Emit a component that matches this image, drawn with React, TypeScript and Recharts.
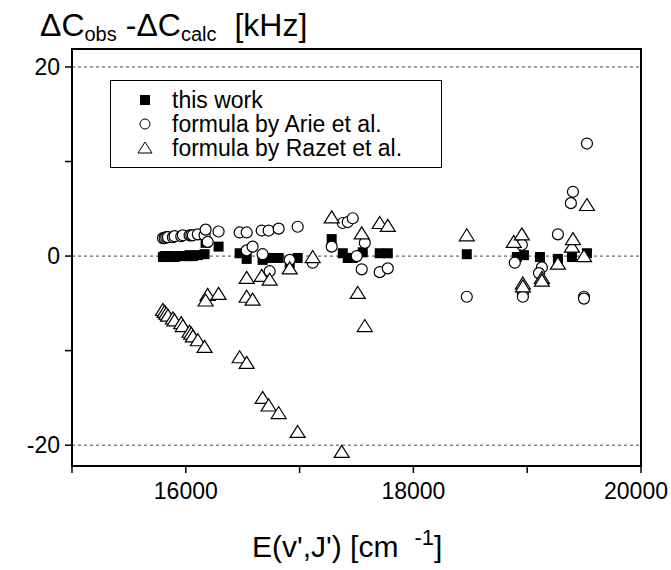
import React from 'react';
import {
  ScatterChart,
  Scatter,
  XAxis,
  YAxis,
  ReferenceLine,
  ReferenceArea,
  Legend,
} from 'recharts';

const xTicks = [15000, 16000, 17000, 18000, 19000, 20000];
const xLabeled = [16000, 18000, 20000];
const yTicks = [-20, -10, 0, 10, 20];
const yLabeled = [-20, 0, 20];
const dashedLevels = [20, 0, -20];

// this work
const thisWorkE = [
  15799, 15814, 15828, 15843, 15887, 15901, 15960, 15974, 16033, 16048, 16062, 16106, 16165,
  16174, 16288, 16473, 16535, 16675, 16737, 16816, 16913, 16983, 17282, 17379, 17423, 17467,
  17555, 17704, 17775, 18469, 18909, 18971, 19112, 19270, 19393, 19525,
];
const thisWorkD = [
  -0.1, 0, -0.1, 0, 0, -0.1, 0, 0, 0.1, 0, 0, 0.1, 0.2,
  1.4, 1.0, 0.3, -0.3, -0.4, -0.2, -0.2, -0.8, -0.2, 1.8, 0.3, -0.2, -0.2,
  0.4, 0.3, 0.3, 0.2, -0.1, 0.1, -0.1, -0.3, -0.1, 0.3,
];

// formula by Arie et al.
const arieE = [
  15799, 15814, 15828, 15843, 15887, 15901, 15960, 15974, 16033, 16048, 16062, 16106, 16165,
  16174, 16288, 16192, 16473, 16535, 16667, 16728, 16816, 16983, 16535, 16587, 16675, 16737,
  16913, 17115, 17282, 17379, 17423, 17467, 17573, 17502, 17546, 17704, 17775, 18469, 18953,
  18891, 18962, 18962, 19129, 19103, 19270, 19384, 19402, 19525, 19499, 19499,
];
const arieD = [
  1.9, 1.9, 2.0, 2.0, 2.0, 2.1, 2.1, 2.2, 2.2, 2.2, 2.2, 2.3, 2.2,
  2.8, 2.6, 1.5, 2.5, 2.5, 2.7, 2.7, 2.9, 3.1, 0.6, 1.0, 0.2, -1.6,
  -0.4, -0.7, 1.0, 3.5, 3.6, 4.0, 1.4, 0.0, -1.4, -1.7, -1.3, -4.3, 1.2,
  -0.7, -3.9, -4.3, -1.2, -1.8, 2.3, 5.6, 6.8, 11.9, -4.3, -4.5,
];

// formula by Razet et al.
const razetE = [
  15799, 15814, 15828, 15843, 15887, 15901, 15960, 15974, 16033, 16048, 16062, 16106, 16165,
  17115, 16535, 16667, 16737, 16913, 16192, 16174, 16288, 16535, 16587, 16473, 16535, 16675,
  16728, 16816, 16983, 17370, 17282, 17546, 17704, 17775, 17511, 17573, 18469, 18882, 18953,
  18962, 18962, 19129, 19129, 19270, 19393, 19402, 19525, 19499,
];
const razetD = [
  -5.7, -5.9, -6.1, -6.3, -6.6, -6.8, -7.1, -7.4, -8.0, -8.2, -8.5, -8.9, -9.6,
  -0.1, -2.3, -2.1, -2.5, -1.3, -4.1, -4.7, -4.0, -4.3, -4.6, -10.7, -11.3, -15.0,
  -15.8, -16.6, -18.6, -20.7, 4.1, 2.4, 3.5, 3.2, -3.9, -7.4, 2.2, 1.5, 2.3,
  -2.9, -3.2, -2.3, -2.6, -0.8, 1.0, 1.8, 5.4, 0.0,
];

const zip = (xs: number[], ys: number[]) => xs.map((x, i) => ({ x, y: ys[i] }));

const thisWork = zip(thisWorkE, thisWorkD);
const arie = zip(arieE, arieD);
const razet = zip(razetE, razetD);

const FONT = '"Liberation Sans", Arial, sans-serif';

const SquareMark = (p: any) => (
  <rect x={p.cx - 5} y={p.cy - 5} width={10} height={10} fill="#000" />
);
const CircleMark = (p: any) => (
  <circle cx={p.cx} cy={p.cy} r={5.5} fill="#fff" stroke="#000" strokeWidth={1.2} />
);
const TriangleMark = (p: any) => (
  <path
    d={`M${p.cx},${p.cy - 6.5} L${p.cx + 7.5},${p.cy + 5.5} L${p.cx - 7.5},${p.cy + 5.5} Z`}
    fill="#fff"
    stroke="#000"
    strokeWidth={1.2}
  />
);

const legendItems = [
  { name: 'this work', mark: 'square' },
  { name: 'formula by Arie et al.', mark: 'circle' },
  { name: 'formula by Razet et al.', mark: 'triangle' },
];

const LegendBox = () => (
  <div
    style={{
      border: '1px solid #000',
      background: '#fff',
      width: 332,
      height: 88,
      boxSizing: 'border-box',
      padding: '7px 0 0 23px',
      fontFamily: FONT,
      fontSize: 23,
      lineHeight: '24px',
      color: '#000',
    }}
  >
    {legendItems.map(item => (
      <div key={item.name} style={{ display: 'flex', alignItems: 'center', height: 24 }}>
        <svg width={22} height={20} style={{ marginRight: 16, flexShrink: 0 }}>
          {item.mark === 'square' && <rect x={6} y={5} width={10} height={10} fill="#000" />}
          {item.mark === 'circle' && (
            <circle cx={11} cy={10} r={5} fill="#fff" stroke="#000" strokeWidth={1} />
          )}
          {item.mark === 'triangle' && (
            <path d="M11,4 L18,15 L4,15 Z" fill="#fff" stroke="#000" strokeWidth={1} />
          )}
        </svg>
        <span style={{ whiteSpace: 'nowrap' }}>{item.name}</span>
      </div>
    ))}
  </div>
);

const XTick = (props: any) => {
  const { x, y, payload } = props;
  const v = payload.value;
  if (!xLabeled.includes(v)) return null;
  const shift = v === 20000 ? -5 : 0;
  return (
    <text x={x + shift} y={y + 24} textAnchor="middle" fontFamily={FONT} fontSize={23} fill="#000">
      {v}
    </text>
  );
};

const YTitle = () => (
  <text x={40} y={36} fontFamily={FONT} fontSize={32} fill="#000">
    <tspan>ΔC</tspan>
    <tspan fontSize={20} dy={5}>obs</tspan>
    <tspan dy={-5} dx={9}>-ΔC</tspan>
    <tspan fontSize={20} dy={5}>calc</tspan>
    <tspan dy={-5} dx={18}>[kHz]</tspan>
  </text>
);

const XTitle = () => (
  <text x={252} y={557} fontFamily={FONT} fontSize={30} fill="#000">
    <tspan>E(v',J') [cm</tspan>
    <tspan fontSize={22} dy={-12} dx={16}>-1</tspan>
    <tspan dy={12}>]</tspan>
  </text>
);

export default function App() {
  return (
    <div style={{ position: 'absolute', left: 0, top: 0, width: 671, height: 570, background: '#fff' }}>
      <ScatterChart
        width={671}
        height={570}
        margin={{ top: 49, right: 30, bottom: 0, left: 0 }}
        style={{ fontFamily: FONT }}
      >
        <XAxis
          dataKey="x"
          type="number"
          domain={[15000, 20000]}
          ticks={xTicks}
          allowDataOverflow
          height={104}
          tickSize={7}
          axisLine={{ stroke: '#000', strokeWidth: 2 }}
          tickLine={{ stroke: '#000', strokeWidth: 1.5 }}
          tick={<XTick />}
          label={<XTitle />}
        />
        <YAxis
          dataKey="y"
          type="number"
          domain={[-22.2, 21.9]}
          ticks={yTicks}
          tickFormatter={(v: number) => (yLabeled.includes(v) ? String(v) : '')}
          allowDataOverflow
          width={72}
          tickSize={7}
          tickMargin={5}
          axisLine={{ stroke: '#000', strokeWidth: 2 }}
          tickLine={{ stroke: '#000', strokeWidth: 1.5 }}
          tick={{ fill: '#000', fontSize: 23, fontFamily: FONT }}
          label={<YTitle />}
        />
        {dashedLevels.map(v => (
          <ReferenceLine key={v} y={v} stroke="#444" strokeWidth={1} strokeDasharray="3 3" />
        ))}
        <ReferenceArea
          x1={15000}
          x2={20000}
          y1={-22.2}
          y2={21.9}
          fill="none"
          fillOpacity={0}
          stroke="#000"
          strokeWidth={2}
        />
        <Legend
          layout="vertical"
          align="center"
          verticalAlign="middle"
          wrapperStyle={{ left: 110, top: 80, width: 332 }}
          content={<LegendBox />}
        />
        <Scatter name="this work" data={thisWork} shape={SquareMark} isAnimationActive={false} />
        <Scatter name="formula by Arie et al." data={arie} shape={CircleMark} isAnimationActive={false} />
        <Scatter name="formula by Razet et al." data={razet} shape={TriangleMark} isAnimationActive={false} />
      </ScatterChart>
    </div>
  );
}
